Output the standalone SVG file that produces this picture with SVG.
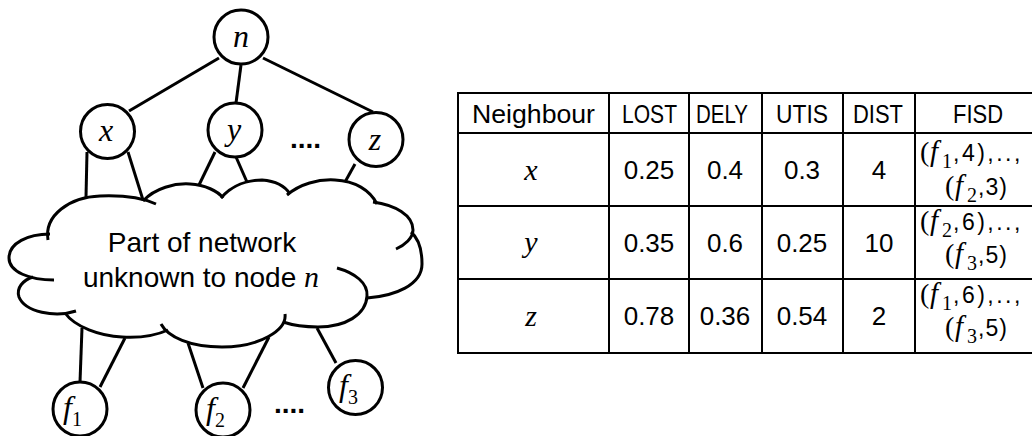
<svg xmlns="http://www.w3.org/2000/svg" width="1032" height="436" viewBox="0 0 1032 436">
<style>
.ln{stroke:#000;stroke-width:3;fill:none}
.cl{stroke:#000;stroke-width:3;fill:none}
.nd circle{fill:#fff;stroke:#000;stroke-width:3}
.tb{stroke:#000;stroke-width:2;fill:none}
.s{font-family:'Liberation Sans',Arial,sans-serif;font-size:26px;fill:#000}
.m{font-family:'Liberation Serif','DejaVu Serif',serif;font-style:italic;font-size:32px;fill:#000}
.mt{font-family:'Liberation Serif','DejaVu Serif',serif;font-style:italic;font-size:30px;fill:#000}
.c{text-anchor:middle}
.fs{font-family:'Liberation Sans',Arial,sans-serif;font-size:23px;letter-spacing:2.5px}
.fs2{font-family:'Liberation Sans',Arial,sans-serif;font-size:23px;letter-spacing:1px}
.fp{font-family:'Liberation Serif','DejaVu Serif',serif;font-size:28px}
.fi{font-family:'Liberation Serif','DejaVu Serif',serif;font-style:italic;font-size:29px}
.sub{font-family:'Liberation Serif','DejaVu Serif',serif;font-style:normal;font-size:20px}
.dots{font-family:'Liberation Sans',Arial,sans-serif;font-size:28px;font-weight:bold}
</style>
<rect width="1032" height="436" fill="#fff"/>
<g id="cloud">
<path class="cl" d="M48,240 C44,215 70,197 100,196 C125,195 145,199 156,204"/>
<path class="cl" d="M143,201 C155,188 175,183 190,184 C205,185 218,191 223,198"/>
<path class="cl" d="M221,198 C232,185 248,180 262,180 C275,181 285,186 290,194"/>
<path class="cl" d="M287,195 C300,184 318,179 335,180 C355,181 370,190 377,204"/>
<path class="cl" d="M373,202 C395,205 413,215 413,230 C413,238 405,245 396,249"/>
<path class="cl" d="M367,298 C395,296 422,285 422,264 C422,250 418,238 411,232"/>
<path class="cl" d="M337,268 C355,273 368,283 367,296 C366,315 345,327 318,327 C305,327 292,325 283,322"/>
<path class="cl" d="M285,314 C287,330 260,347 222,347 C190,347 168,337 161,324"/>
<path class="cl" d="M168,330 C155,336 140,338 122,337 C100,336 75,327 65,313"/>
<path class="cl" d="M76,311 C55,318 25,312 19,297 C16,288 23,280 33,277"/>
<path class="cl" d="M54,280 C30,280 9,272 9,258 C9,243 28,234 50,234"/>
<text class="s c" x="202" y="252" style="font-size:28px">Part of network</text>
<text class="s c" x="201" y="287" style="font-size:28px">unknown to node <tspan class="m" style="font-size:30px">n</tspan></text>
</g>
<g id="connectors">
<line class="ln" x1="219" y1="58" x2="129" y2="111"/>
<line class="ln" x1="241" y1="65" x2="236" y2="103"/>
<line class="ln" x1="263" y1="58" x2="373" y2="112"/>
<line class="ln" x1="87" y1="152" x2="86" y2="197"/>
<line class="ln" x1="128" y1="152" x2="143" y2="200"/>
<line class="ln" x1="215" y1="152" x2="199" y2="185"/>
<line class="ln" x1="236" y1="157" x2="247" y2="182"/>
<line class="ln" x1="355" y1="164" x2="345" y2="182"/>
<line class="ln" x1="82" y1="328" x2="80" y2="382"/>
<line class="ln" x1="125" y1="338" x2="100" y2="387"/>
<line class="ln" x1="188" y1="343" x2="203" y2="388"/>
<line class="ln" x1="269" y1="337" x2="243" y2="388"/>
<line class="ln" x1="317" y1="328" x2="336" y2="363"/>
</g>
<g id="node-n" class="nd"><circle cx="241" cy="37" r="27"/><text class="m c" x="241" y="47">n</text></g>
<g id="node-x" class="nd"><circle cx="107.5" cy="131.5" r="27"/><text class="m c" x="106" y="141">x</text></g>
<g id="node-y" class="nd"><circle cx="235" cy="130" r="27"/><text class="m c" x="234" y="140">y</text></g>
<g id="node-z" class="nd"><circle cx="376" cy="139.5" r="27"/><text class="m c" x="375" y="150">z</text></g>
<text class="dots" x="290" y="148">....</text>
<g id="node-f1" class="nd"><circle cx="80" cy="409" r="27"/><text class="m" x="63" y="418">f<tspan class="sub" dy="8">1</tspan></text></g>
<g id="node-f2" class="nd"><circle cx="223" cy="410" r="27"/><text class="m" x="206" y="419">f<tspan class="sub" dy="8">2</tspan></text></g>
<g id="node-f3" class="nd"><circle cx="355.5" cy="387.5" r="27"/><text class="m" x="339" y="396">f<tspan class="sub" dy="8">3</tspan></text></g>
<text class="dots" x="274" y="413">....</text>
<g id="table">
<rect class="tb" x="458" y="93" width="600" height="260"/>
<line class="tb" x1="458" y1="133" x2="1032" y2="133"/>
<line class="tb" x1="458" y1="206" x2="1032" y2="206"/>
<line class="tb" x1="458" y1="279" x2="1032" y2="279"/>
<line class="tb" x1="609" y1="93" x2="609" y2="353"/>
<line class="tb" x1="689" y1="93" x2="689" y2="353"/>
<line class="tb" x1="762" y1="93" x2="762" y2="353"/>
<line class="tb" x1="843" y1="93" x2="843" y2="353"/>
<line class="tb" x1="915" y1="93" x2="915" y2="353"/>
<text class="s" x="472" y="123" textLength="123" lengthAdjust="spacingAndGlyphs">Neighbour</text>
<text class="s" x="622" y="123" textLength="55" lengthAdjust="spacingAndGlyphs">LOST</text>
<text class="s" x="696" y="123" textLength="52" lengthAdjust="spacingAndGlyphs">DELY</text>
<text class="s" x="776" y="123" textLength="52" lengthAdjust="spacingAndGlyphs">UTIS</text>
<text class="s" x="853" y="123" textLength="50" lengthAdjust="spacingAndGlyphs">DIST</text>
<text class="s" x="953" y="123" textLength="50" lengthAdjust="spacingAndGlyphs">FISD</text>
<text class="mt c" x="531" y="180">x</text>
<text class="s c" x="649" y="179">0.25</text>
<text class="s c" x="725" y="179">0.4</text>
<text class="s c" x="802" y="179">0.3</text>
<text class="s c" x="879" y="179">4</text>
<text class="mt c" x="531" y="252">y</text>
<text class="s c" x="649" y="252">0.35</text>
<text class="s c" x="725" y="252">0.6</text>
<text class="s c" x="802" y="252">0.25</text>
<text class="s c" x="879" y="252">10</text>
<text class="mt c" x="531" y="326">z</text>
<text class="s c" x="649" y="325">0.78</text>
<text class="s c" x="725" y="325">0.36</text>
<text class="s c" x="802" y="325">0.54</text>
<text class="s c" x="879" y="325">2</text>
<text y="161"><tspan class="fp" x="920">(</tspan><tspan class="fi" x="930">f</tspan><tspan class="sub" x="942" dy="7">1</tspan><tspan class="fs" x="953" dy="-7">,4),..,</tspan></text>
<text y="195"><tspan class="fp" x="945">(</tspan><tspan class="fi" x="955">f</tspan><tspan class="sub" x="967" dy="7">2</tspan><tspan class="fs2" x="978" dy="-7">,3)</tspan></text>
<text y="230"><tspan class="fp" x="920">(</tspan><tspan class="fi" x="930">f</tspan><tspan class="sub" x="942" dy="7">2</tspan><tspan class="fs" x="953" dy="-7">,6),..,</tspan></text>
<text y="263"><tspan class="fp" x="945">(</tspan><tspan class="fi" x="955">f</tspan><tspan class="sub" x="967" dy="7">3</tspan><tspan class="fs2" x="978" dy="-7">,5)</tspan></text>
<text y="303"><tspan class="fp" x="920">(</tspan><tspan class="fi" x="930">f</tspan><tspan class="sub" x="942" dy="7">1</tspan><tspan class="fs" x="953" dy="-7">,6),..,</tspan></text>
<text y="336"><tspan class="fp" x="945">(</tspan><tspan class="fi" x="955">f</tspan><tspan class="sub" x="967" dy="7">3</tspan><tspan class="fs2" x="978" dy="-7">,5)</tspan></text>
</g>
</svg>
